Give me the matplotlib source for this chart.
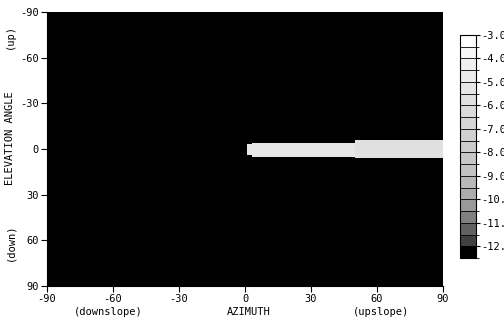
import numpy as np
import matplotlib
matplotlib.use("Agg")
import matplotlib.pyplot as plt
from matplotlib.colors import ListedColormap, BoundaryNorm

# Contour levels (log10 intensity) and their grey shades
levels = [-13.0, -12.0, -11.5, -11.0, -10.5, -10.0, -9.5, -9.0, -8.5, -8.0,
          -7.5, -7.0, -6.5, -6.0, -5.5, -5.0, -4.5, -4.0, -3.5, -3.0]
greys = [0.0, 0.25, 0.38, 0.50, 0.60, 0.68, 0.72, 0.76, 0.78, 0.80,
         0.82, 0.84, 0.86, 0.88, 0.90, 0.92, 0.94, 0.97, 1.0]
cbar_ticks = [-12, -11, -10, -9, -8, -7, -6, -5, -4, -3]

# Sky field: background level and the bright forward-scattering band
background = -12.5
band_az_start = [1.5, 3.0, 34.0, 50.0]
band_az_end = [3.0, 34.0, 50.0, 91.0]
band_el_top = [-3.0, -4.0, -4.0, -5.5]
band_el_bottom = [4.0, 5.0, 5.5, 6.5]
band_value = [-5.3, -5.3, -5.3, -5.8]

az_ticks = [-90, -60, -30, 0, 30, 60, 90]
el_ticks = [-90, -60, -30, 0, 30, 60, 90]

az_edges = np.arange(-90, 91, 1.0)
el_edges = np.arange(-90, 91, 1.0)
az_c = 0.5 * (az_edges[:-1] + az_edges[1:])
el_c = 0.5 * (el_edges[:-1] + el_edges[1:])
AZ, EL = np.meshgrid(az_c, el_c)
field = np.full(AZ.shape, background)
for a0, a1, t, b, v in zip(band_az_start, band_az_end, band_el_top,
                           band_el_bottom, band_value):
    m = (AZ >= a0) & (AZ < a1) & (EL >= t) & (EL < b)
    field[m] = v

cmap = ListedColormap([(g, g, g) for g in greys])
norm = BoundaryNorm(levels, cmap.N)

mono = "DejaVu Sans Mono"
fs = 7.5

fig = plt.figure(figsize=(5.04, 3.24), dpi=100)
ax = fig.add_axes([0.0933, 0.117, 0.7857, 0.846])
ax.pcolormesh(az_edges, el_edges, field, cmap=cmap, norm=norm)
ax.set_xlim(-90, 90)
ax.set_ylim(90, -90)
ax.set_xticks(az_ticks)
ax.set_yticks(el_ticks)
ax.set_xticklabels([str(v) for v in az_ticks], family=mono, fontsize=fs)
ax.set_yticklabels([str(v) for v in el_ticks], family=mono, fontsize=fs)
ax.tick_params(direction="out", length=4, width=0.8, pad=2)
for s in ["top", "right"]:
    ax.spines[s].set_visible(False)

# Axis captions
ycap = dict(transform=ax.transAxes, rotation=90, ha="center", va="center",
            family=mono, fontsize=fs)
ax.text(-0.093, 0.54, "ELEVATION ANGLE", **ycap)
ax.text(-0.093, 0.912, "(up)", **ycap)
ax.text(-0.093, 0.161, "(down)", **ycap)
xcap = dict(transform=ax.get_xaxis_transform(), ha="center", va="center",
            family=mono, fontsize=fs)
ax.text(-62, -0.093, "(downslope)", **xcap)
ax.text(1.5, -0.093, "AZIMUTH", **xcap)
ax.text(62, -0.093, "(upslope)", **xcap)

# Colour key
cax = fig.add_axes([0.9127, 0.2037, 0.0317, 0.6883])
sm = matplotlib.cm.ScalarMappable(norm=norm, cmap=cmap)
cb = fig.colorbar(sm, cax=cax, boundaries=levels, ticks=cbar_ticks,
                  drawedges=True, spacing="uniform")
cb.outline.set_linewidth(0.8)
cb.dividers.set_linewidth(0.6)
cb.dividers.set_color("black")
cb.ax.set_yticklabels(["%.1f" % t for t in cbar_ticks], family=mono,
                      fontsize=fs)
cb.ax.tick_params(length=3, width=0.8, pad=1)

fig.savefig("out.png", dpi=100)
